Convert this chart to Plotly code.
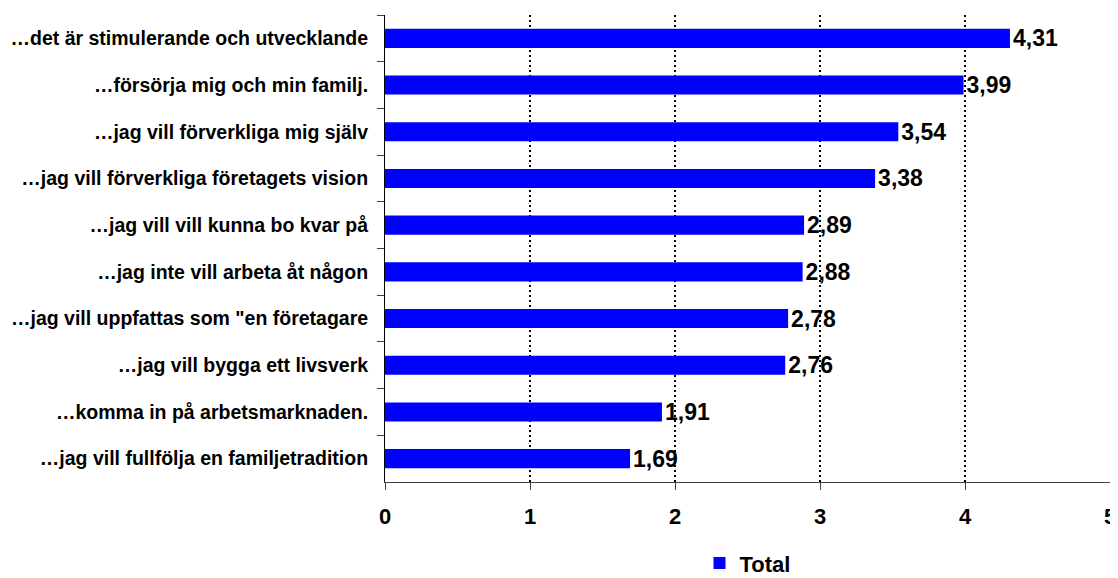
import plotly.graph_objects as go

categories = [
    "…det är stimulerande och utvecklande",
    "…försörja mig och min familj.",
    "…jag vill förverkliga mig själv",
    "…jag vill förverkliga företagets vision",
    "…jag vill vill kunna bo kvar på",
    "…jag inte vill arbeta åt någon",
    "…jag vill uppfattas som \"en företagare",
    "…jag vill bygga ett livsverk",
    "…komma in på arbetsmarknaden.",
    "…jag vill fullfölja en familjetradition",
]
values = [4.31, 3.99, 3.54, 3.38, 2.89, 2.88, 2.78, 2.76, 1.91, 1.69]
series_name = "Total"
x_ticks = [0, 1, 2, 3, 4, 5]

FONT = "Liberation Sans, Arial, sans-serif"

fig = go.Figure(
    go.Bar(
        x=values,
        y=categories,
        orientation="h",
        name=series_name,
        marker=dict(color="#0000FF", line=dict(width=0)),
        texttemplate="%{x:.2f}",
        textposition="outside",
        constraintext="none",
        textfont=dict(family=FONT, size=23, color="black", weight="bold"),
        cliponaxis=False,
        showlegend=True,
    )
)

# The page body has an 8px margin; the figure is made a bit larger than the
# viewport so that edge labels and the legend are not squeezed or clipped.
fig.update_layout(
    width=1130,
    height=620,
    margin=dict(l=377, r=28, t=7, b=146),
    plot_bgcolor="white",
    paper_bgcolor="white",
    separators=",.",
    bargap=0.59,
    font=dict(family=FONT, color="black"),
    showlegend=True,
    legend=dict(
        orientation="h",
        x=0.5,
        xanchor="center",
        y=-0.174,
        yanchor="middle",
        font=dict(family=FONT, size=22, color="black", weight="bold"),
        itemwidth=30,
    ),
    xaxis=dict(
        range=[0, 5],
        tickvals=x_ticks,
        ticktext=[str(t) for t in x_ticks],
        ticks="outside",
        ticklen=7,
        tickcolor="#404040",
        showline=True,
        linecolor="#404040",
        linewidth=1,
        showgrid=True,
        gridcolor="black",
        gridwidth=2,
        griddash="2px,3px",
        zeroline=False,
        automargin=False,
        tickfont=dict(family=FONT, size=22, color="black", weight="bold"),
        ticklabelstandoff=8,
    ),
    yaxis=dict(
        autorange="reversed",
        tickson="boundaries",
        ticks="outside",
        ticklen=7,
        tickcolor="#404040",
        showline=True,
        linecolor="black",
        linewidth=1,
        showgrid=False,
        automargin=False,
        tickfont=dict(family=FONT, size=19.5, color="black", weight="bold"),
        ticklabelstandoff=12,
    ),
)

fig.write_html("out.html")
